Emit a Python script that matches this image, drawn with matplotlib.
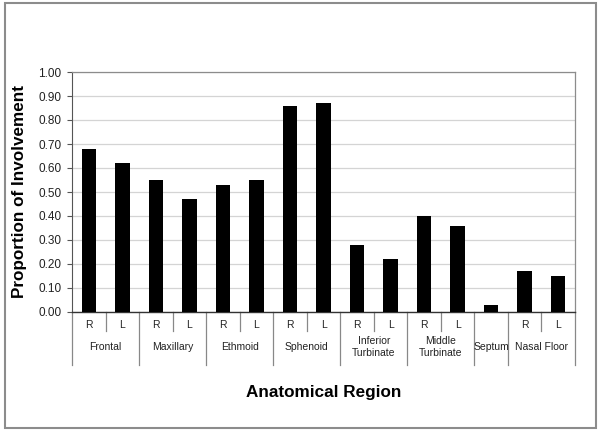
import matplotlib
matplotlib.use("Agg")
import matplotlib.pyplot as plt
from matplotlib.patches import Rectangle

plt.rcParams["font.family"] = ["Liberation Sans", "DejaVu Sans"]

# ── Data ───────────────────────────────────────────────────────────────────
sides = ["R", "L", "R", "L", "R", "L", "R", "L", "R", "L", "R", "L", "", "R", "L"]
values = [0.68, 0.62, 0.55, 0.47, 0.53, 0.55, 0.86, 0.87,
          0.28, 0.22, 0.40, 0.36, 0.03, 0.17, 0.15]
groups = ["Frontal", "Maxillary", "Ethmoid", "Sphenoid", "Inferior\nTurbinate",
          "Middle\nTurbinate", "Septum", "Nasal Floor"]
group_sizes = [2, 2, 2, 2, 2, 2, 1, 2]
yticks = [0.0, 0.1, 0.2, 0.3, 0.4, 0.5, 0.6, 0.7, 0.8, 0.9, 1.0]

# ── Figure ─────────────────────────────────────────────────────────────────
W, H = 601, 433
fig = plt.figure(figsize=(W / 100, H / 100), dpi=100)
fig.patches.append(Rectangle((5 / W, 1 - 428 / H), 591 / W, 425 / H,
                             transform=fig.transFigure, fill=False,
                             edgecolor="#8c8c8c", linewidth=1.5))

ax = fig.add_axes([72 / W, 121 / H, 503 / W, 240 / H])
x = list(range(len(values)))
ax.bar(x, values, width=0.43, color="black", zorder=3)

ax.set_xlim(-0.5, len(values) - 0.5)
ax.set_ylim(0, 1.0)
ax.set_yticks(yticks)
ax.set_yticklabels([f"{v:.2f}" for v in yticks], fontsize=8.5, color="#222222")
ax.tick_params(axis="y", length=3.5, width=0.8, color="#555555", pad=4)
ax.set_xticks([])
ax.grid(axis="y", color="#d4d4d4", linewidth=0.9, zorder=0)

for s in ["top", "right"]:
    ax.spines[s].set_color("#8c8c8c")
    ax.spines[s].set_linewidth(0.9)
ax.spines["left"].set_color("#555555")
ax.spines["bottom"].set_color("#333333")
ax.spines["bottom"].set_linewidth(1.0)

# ── Multi-level category axis ──────────────────────────────────────────────
tr = ax.get_xaxis_transform()
short_y, long_y = -0.079, -0.221
for i, s in enumerate(sides):
    if s:
        ax.text(i, -0.054, s, transform=tr, ha="center", va="center",
                fontsize=7.5, color="#222222")

edge = -0.5
ax.plot([edge, edge], [0, long_y], transform=tr, clip_on=False,
        color="#888888", lw=0.9)
for g, n in zip(groups, group_sizes):
    if n == 2:
        ax.plot([edge + 1, edge + 1], [0, short_y], transform=tr,
                clip_on=False, color="#888888", lw=0.9)
    ax.text(edge + n / 2, -0.146, g, transform=tr, ha="center", va="center",
            fontsize=7.5, color="#222222", linespacing=1.3)
    edge += n
    ax.plot([edge, edge], [0, long_y], transform=tr, clip_on=False,
            color="#888888", lw=0.9)

ax.set_ylabel("Proportion of Involvement", fontsize=12.3, fontweight="bold",
              labelpad=8)
fig.text((72 + 575) / 2 / W, 1 - 393 / H, "Anatomical Region", ha="center",
         va="center", fontsize=12.3, fontweight="bold")

fig.savefig("out.png", dpi=100)
